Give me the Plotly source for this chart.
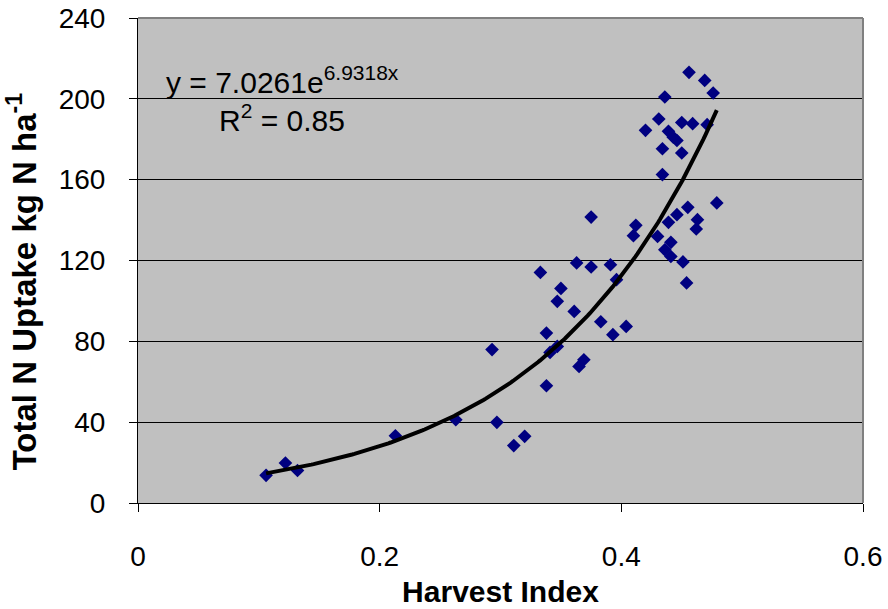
import numpy as np
import plotly.graph_objects as go

# Harvest index vs. total N uptake (kg N/ha)
harvest_index = [
    0.106, 0.122, 0.132, 0.213, 0.263, 0.293, 0.297, 0.311, 0.320, 0.333,
    0.338, 0.338, 0.341, 0.347, 0.347, 0.350, 0.361, 0.363, 0.365, 0.369,
    0.375, 0.375, 0.383, 0.391, 0.393, 0.396, 0.404, 0.410, 0.412, 0.420,
    0.430, 0.431, 0.434, 0.434, 0.436, 0.436, 0.439, 0.439, 0.441, 0.441,
    0.443, 0.446, 0.446, 0.450, 0.450, 0.451, 0.454, 0.455, 0.456, 0.459,
    0.462, 0.463, 0.469, 0.471, 0.476, 0.479,
]
n_uptake = [
    13.7, 19.8, 16.1, 33.3, 41.2, 75.9, 39.9, 28.4, 33.0, 114.1,
    84.1, 58.0, 74.5, 77.5, 99.8, 106.2, 94.8, 118.8, 67.6, 70.9,
    141.5, 116.8, 89.7, 117.9, 83.3, 110.5, 87.4, 132.3, 137.4, 184.4,
    131.9, 190.0, 162.5, 175.3, 200.9, 125.3, 183.9, 138.9, 129.0, 122.0,
    181.0, 179.4, 142.7, 188.3, 173.2, 119.3, 108.9, 146.3, 213.1, 187.7,
    135.6, 140.2, 209.1, 187.2, 202.9, 148.5,
]

# Exponential trendline y = a * exp(b * x)
fit_a = 7.0261
fit_b = 6.9318
fit_r2 = 0.85

x_ticks = [0, 0.2, 0.4, 0.6]
y_ticks = [0, 40, 80, 120, 160, 200, 240]

FONT = "Liberation Sans, Arial, sans-serif"

trend_x = np.linspace(min(harvest_index), max(harvest_index), 200)
trend_y = fit_a * np.exp(fit_b * trend_x)

fig = go.Figure()
fig.add_trace(go.Scatter(
    x=harvest_index, y=n_uptake, mode="markers",
    marker=dict(symbol="diamond", size=10.5, color="#000080",
                line=dict(width=0)),
    showlegend=False, hoverinfo="x+y",
))
fig.add_trace(go.Scatter(
    x=trend_x, y=trend_y, mode="lines",
    line=dict(color="black", width=4),
    showlegend=False, hoverinfo="skip",
))

fig.update_layout(
    width=888, height=609,
    margin=dict(l=138, r=25, t=18, b=106),
    paper_bgcolor="white",
    plot_bgcolor="#C0C0C0",
    font=dict(family=FONT, color="black"),
    xaxis=dict(
        range=[0, 0.6], tickvals=x_ticks, ticktext=[str(v) for v in x_ticks],
        automargin=False,
        showgrid=False, zeroline=False,
        showline=True, linecolor="black", linewidth=1,
        ticks="outside", ticklen=8, tickcolor="black",
        tickfont=dict(size=28, family=FONT),
        ticklabelstandoff=20,
        title=dict(text="<b>Harvest Index</b>", font=dict(size=30, family=FONT),
                   standoff=10),
    ),
    yaxis=dict(
        range=[0, 240], tickvals=y_ticks,
        automargin=False,
        showgrid=True, gridcolor="black", gridwidth=1, zeroline=False,
        showline=True, linecolor="black", linewidth=1,
        ticks="outside", ticklen=8, tickcolor="black",
        tickfont=dict(size=28, family=FONT),
        ticklabelstandoff=18,
    ),
    shapes=[
        dict(type="line", xref="paper", yref="paper", x0=0, x1=1, y0=1, y1=1,
             line=dict(color="#808080", width=2), layer="above"),
        dict(type="line", xref="paper", yref="paper", x0=1, x1=1, y0=0, y1=1,
             line=dict(color="#808080", width=2), layer="above"),
    ],
    annotations=[
        dict(text="<b>Total N Uptake kg N ha<sup>-1</sup></b>",
             xref="paper", yref="paper", x=-0.16, y=0.457,
             xanchor="center", yanchor="middle", textangle=-90,
             showarrow=False, font=dict(size=33, family=FONT)),
        dict(text=f"y = {fit_a}e<sup>{fit_b}x</sup>",
             xref="x", yref="y", x=0.1194, y=209.2,
             xanchor="center", yanchor="middle",
             showarrow=False, font=dict(size=30, family=FONT)),
        dict(text=f"R<sup>2</sup> = {fit_r2}",
             xref="x", yref="y", x=0.1194, y=190.5,
             xanchor="center", yanchor="middle",
             showarrow=False, font=dict(size=30, family=FONT)),
    ],
)

fig.write_html("out.html")
